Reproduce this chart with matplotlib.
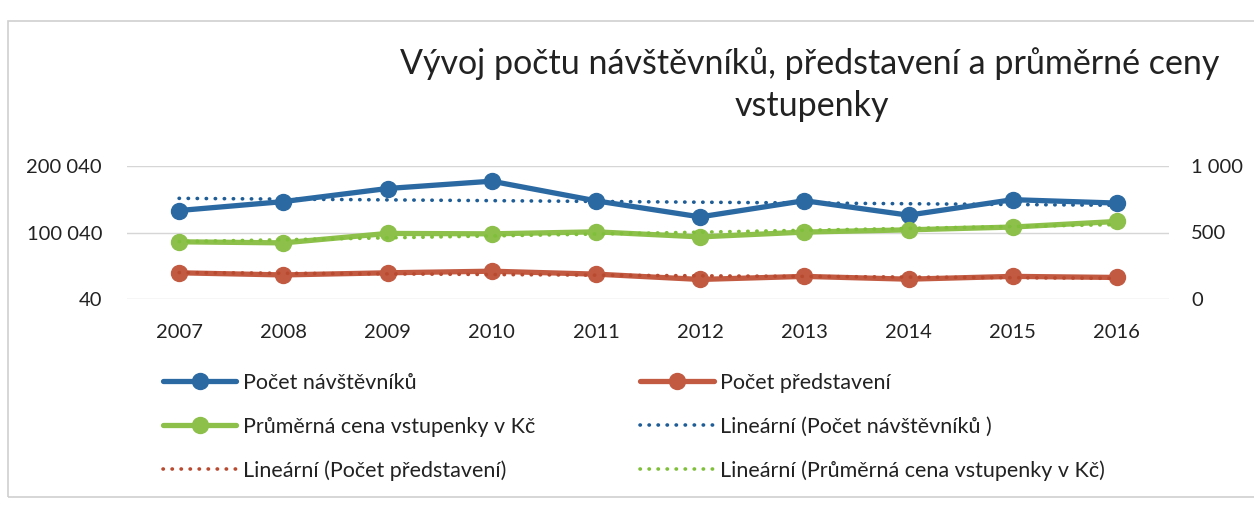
import matplotlib
matplotlib.use("Agg")
import matplotlib.pyplot as plt
import numpy as np
from matplotlib.patches import Rectangle
from matplotlib.ticker import FuncFormatter

plt.rcParams["font.family"] = ["Lato", "DejaVu Sans"]

# data
years = ["2007", "2008", "2009", "2010", "2011", "2012", "2013", "2014", "2015", "2016"]
navstevnici = [133100, 146500, 166200, 177200, 147700, 123500, 147900, 126100, 149400, 144300]
predstaveni = [197, 181, 197, 209, 187, 147, 170, 149, 170, 162]
cena_vstupenky = [430, 422, 493, 490, 505, 467, 503, 520, 541, 583]

left_ticks = [40, 100040, 200040]
right_ticks = [0, 500, 1000]

BLUE = "#2b69a3"
RED = "#c25a42"
GREEN = "#8dc04b"


def space_fmt(v, pos=None):
    return f"{int(round(v)):,}".replace(",", " ")


fig = plt.figure(figsize=(12.54, 5.07), dpi=100)
fig.patch.set_facecolor("white")

# ramecek grafu
fig.patches.append(Rectangle((8 / 1254, 1 - 497 / 507), 1.2, (497 - 21) / 507,
                             transform=fig.transFigure, fill=False,
                             edgecolor="#cfcfcf", lw=1.2))

ax = fig.add_axes([127 / 1254, 1 - 299 / 507, 1042 / 1254, 133 / 507])
ax2 = ax.twinx()

x = np.arange(len(years))

ax.set_xlim(-0.5, len(years) - 0.5)
ax.set_ylim(left_ticks[0], left_ticks[-1])
ax2.set_ylim(right_ticks[0], right_ticks[-1])
ax.set_yticks(left_ticks)
ax2.set_yticks(right_ticks)
ax.yaxis.set_major_formatter(FuncFormatter(space_fmt))
ax2.yaxis.set_major_formatter(FuncFormatter(space_fmt))
ax.set_xticks(x)
ax.set_xticklabels(years)

ax.grid(axis="y", color="#d6d6d6", lw=1)
ax.set_axisbelow(True)
for a in (ax, ax2):
    for s in a.spines.values():
        s.set_visible(False)
    a.set_facecolor("none")
ax.tick_params(axis="y", length=0, pad=18, labelsize=14.5, labelcolor="#222222")
ax2.tick_params(axis="y", length=0, pad=16, labelsize=14.5, labelcolor="#222222")
ax.tick_params(axis="x", length=0, pad=18, labelsize=14.5, labelcolor="#222222")

line_kw = dict(lw=3.8, marker="o", ms=11.5, solid_capstyle="round")
dot = (0, (0.1, 2.4))
trend_kw = dict(lw=2.6, linestyle=dot, dash_capstyle="round")

h1, = ax.plot(x, navstevnici, color=BLUE, label="Počet návštěvníků", **line_kw)
h2, = ax2.plot(x, predstaveni, color=RED, label="Počet představení", **line_kw)
h3, = ax2.plot(x, cena_vstupenky, color=GREEN, label="Průměrná cena vstupenky v Kč", **line_kw)

# linearni trendy
t1 = np.polyval(np.polyfit(x, navstevnici, 1), x)
t2 = np.polyval(np.polyfit(x, predstaveni, 1), x)
t3 = np.polyval(np.polyfit(x, cena_vstupenky, 1), x)
h4, = ax.plot(x, t1, color="#1f5d96", label="Lineární (Počet návštěvníků )", zorder=1, **trend_kw)
h5, = ax2.plot(x, t2, color="#b84a30", label="Lineární (Počet představení)", **trend_kw)
h6, = ax2.plot(x, t3, color="#7fbf3a", label="Lineární (Průměrná cena vstupenky v Kč)", **trend_kw)

fig.text(810 / 1254, 1 - 64 / 507, "Vývoj počtu návštěvníků, představení a průměrné ceny",
         ha="center", va="center", fontsize=24.5, color="#222222")
fig.text(812 / 1254, 1 - 106 / 507, "vstupenky",
         ha="center", va="center", fontsize=24.5, color="#222222")

leg = fig.legend([h1, h3, h5, h2, h4, h6],
                 [h.get_label() for h in (h1, h3, h5, h2, h4, h6)],
                 ncol=2, loc="upper left", bbox_to_anchor=(163 / 1254, 1 - 373 / 507),
                 frameon=False, fontsize=15.5, handlelength=3.4, handletextpad=0.3,
                 columnspacing=4.9, labelspacing=1.1, borderpad=0, borderaxespad=0,
                 labelcolor="#222222")

fig.savefig("out.png", dpi=100)
